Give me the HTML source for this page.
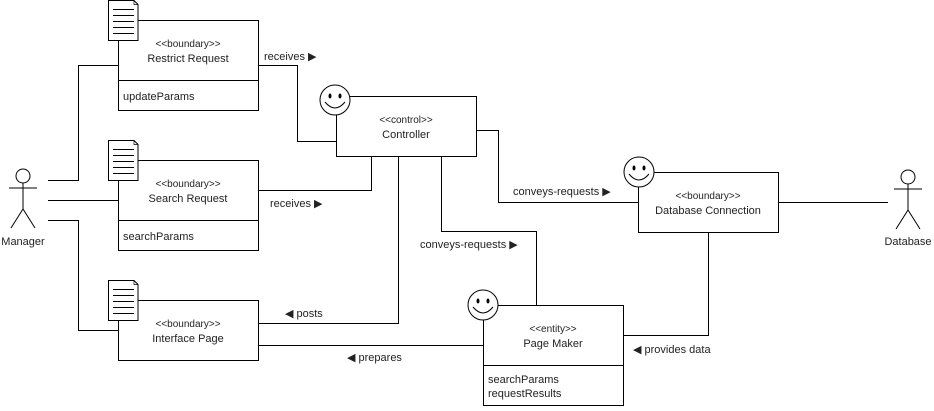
<!DOCTYPE html>
<html><head><style>
body{margin:0;background:#fff;}
svg text{font-family:"Liberation Sans",sans-serif;font-size:11px;fill:#222;}
</style></head><body>
<svg width="934" height="406" xmlns="http://www.w3.org/2000/svg">
<defs>
<g id="doc">
<path d="M0.5,0.5 H26 L30,4.5 V40.5 H0.5 Z" fill="#fff" stroke="#000"/>
<path d="M26,0.5 V4.5 H30" fill="none" stroke="#000" stroke-width="0.7"/>
<g stroke="#000" stroke-width="1"><line x1="5" y1="9.5" x2="26" y2="9.5"/><line x1="5" y1="15.5" x2="26" y2="15.5"/><line x1="5" y1="21.5" x2="26" y2="21.5"/><line x1="5" y1="27.5" x2="26" y2="27.5"/><line x1="5" y1="33.5" x2="26" y2="33.5"/></g>
</g>
<g id="smile">
<circle cx="0" cy="0" r="15" fill="#fff" stroke="#000"/>
<ellipse cx="-5" cy="-4" rx="1.5" ry="2.5" fill="#000"/>
<ellipse cx="5" cy="-4" rx="1.5" ry="2.5" fill="#000"/>
<path d="M-10,2 Q0,14 10,2" fill="none" stroke="#000"/>
</g>
<g id="actor" fill="none" stroke="#000">
<circle cx="0" cy="0" r="7" fill="#fff"/>
<line x1="0" y1="7" x2="0" y2="33"/>
<line x1="-14" y1="12" x2="14" y2="12"/>
<line x1="0" y1="33" x2="-12" y2="52"/>
<line x1="0" y1="33" x2="12" y2="52"/>
</g>
</defs>
<g fill="none" stroke="#000" stroke-width="1">
<polyline points="48,180.5 78.5,180.5 78.5,65.5 118,65.5"/>
<line x1="48" y1="200.5" x2="118" y2="200.5"/>
<polyline points="48,220.5 78.5,220.5 78.5,330.5 118,330.5"/>
<polyline points="258,65.5 297.5,65.5 297.5,141.5 336,141.5"/>
<polyline points="258,190.5 371.5,190.5 371.5,156"/>
<polyline points="398.5,156 398.5,323.5 258,323.5"/>
<polyline points="441.5,156 441.5,231.5 536.5,231.5 536.5,305"/>
<polyline points="476,130.5 498.5,130.5 498.5,202.5 638,202.5"/>
<line x1="778" y1="202.5" x2="888" y2="202.5"/>
<polyline points="708.5,232 708.5,335.5 623,335.5"/>
<line x1="258" y1="345.5" x2="483" y2="345.5"/>
</g>
<g fill="#fff" stroke="#000">
<rect x="118.5" y="20.5" width="140" height="90"/><line x1="118" y1="80.5" x2="258" y2="80.5"/>
<rect x="118.5" y="160.5" width="140" height="90"/><line x1="118" y1="220.5" x2="258" y2="220.5"/>
<rect x="118.5" y="300.5" width="140" height="60"/>
<rect x="336.5" y="96.5" width="140" height="60"/>
<rect x="638.5" y="172.5" width="140" height="60"/>
<rect x="483.5" y="305.5" width="140" height="100"/><line x1="483" y1="365.5" x2="623" y2="365.5"/>
</g>
<use href="#doc" x="108" y="0"/>
<use href="#doc" x="108" y="140"/>
<use href="#doc" x="108" y="280"/>
<use href="#smile" x="335" y="100"/>
<use href="#smile" x="639" y="172"/>
<use href="#smile" x="483" y="305"/>
<use href="#actor" x="23" y="176"/>
<use href="#actor" x="908" y="177"/>
<g text-anchor="middle">
<text x="188" y="47" style="font-size:10px">&lt;&lt;boundary&gt;&gt;</text><text x="188" y="62">Restrict Request</text>
<text x="188" y="187" style="font-size:10px">&lt;&lt;boundary&gt;&gt;</text><text x="188" y="202">Search Request</text>
<text x="188" y="327" style="font-size:10px">&lt;&lt;boundary&gt;&gt;</text><text x="188" y="342">Interface Page</text>
<text x="406" y="123" style="font-size:10px">&lt;&lt;control&gt;&gt;</text><text x="406" y="138">Controller</text>
<text x="708" y="199" style="font-size:10px">&lt;&lt;boundary&gt;&gt;</text><text x="708" y="214">Database Connection</text>
<text x="553" y="332" style="font-size:10px">&lt;&lt;entity&gt;&gt;</text><text x="553" y="347">Page Maker</text>
<text x="23" y="245">Manager</text>
<text x="908" y="245">Database</text>
</g>
<text x="123" y="100">updateParams</text>
<text x="123" y="240">searchParams</text>
<text x="488" y="383">searchParams</text>
<text x="488" y="397">requestResults</text>
<text x="264" y="60">receives ▶</text>
<text x="270" y="207">receives ▶</text>
<text x="513" y="195">conveys-requests ▶</text>
<text x="420" y="248">conveys-requests ▶</text>
<text x="285" y="317">◀ posts</text>
<text x="347" y="361">◀ prepares</text>
<text x="633" y="353">◀ provides data</text>
</svg>
</body></html>
